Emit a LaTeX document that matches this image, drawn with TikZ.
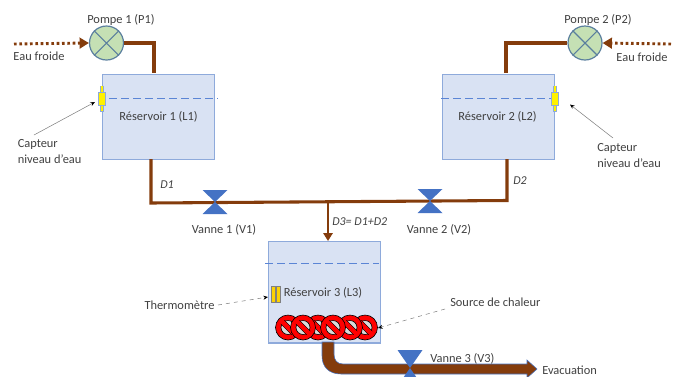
\documentclass[tikz,border=0pt]{standalone}
\usepackage{fontspec}
\setmainfont{Carlito}
\usetikzlibrary{arrows.meta}
\definecolor{pipe}{HTML}{843C0C}
\definecolor{tankfill}{HTML}{D9E2F3}
\definecolor{tankline}{HTML}{8EAADB}
\definecolor{lvl}{HTML}{4472C4}
\definecolor{lvlb}{HTML}{5B85D5}
\definecolor{pumpfill}{HTML}{C5E0B4}
\definecolor{pumpline}{HTML}{5B7F9E}
\definecolor{txt}{HTML}{404040}
\tikzset{
 tank/.style={draw=tankline,fill=tankfill,line width=1pt,minimum width=84pt,inner sep=0pt,anchor=north west},
 pump/.style={circle,draw=pumpline,fill=pumpfill,line width=0.9pt,minimum size=25.5pt,inner sep=0pt},
 lbl/.style={font=\fontsize{9.3}{12}\selectfont,text=txt,inner sep=0pt},
 flow/.style={lbl,font=\fontsize{9}{11}\selectfont\itshape},
 pipeline/.style={draw=pipe,line width=2.3pt,line join=miter},
 level/.style={draw=lvlb,line width=1.3pt,dash pattern=on 6pt off 3pt},
 inflow/.style={draw=pipe,line width=2.2pt,dash pattern=on 2pt off 2pt,-{Triangle[length=7pt,width=8pt]}},
 callout/.style={draw=gray,line width=0.4pt,-{Stealth[length=3.5pt,width=3pt,black]}},
 valvepart/.style={fill=lvl,draw=none},
}
\newcommand{\valveshape}[3]{\fill[valvepart] (#1-12.5,#2-#3) -- (#1+12.5,#2-#3) -- (#1-12.5,#2+#3) -- (#1+12.5,#2+#3) -- cycle;}
\newcommand{\heater}[2]{%
 \fill[red,draw=black,line width=0.45pt] (#1,#2) circle (12.5);
 \fill[white!70!gray,draw=black,line width=0.45pt] (#1,#2) circle (7);
 \draw[black,line width=4.2pt] (#1-5.5,#2-5.5) -- (#1+5.5,#2+5.5);
 \draw[red,line width=3.4pt] (#1-7,#2-7) -- (#1+7,#2+7);
}
\newcommand{\sensor}[2]{%
 \draw[tankline,line width=2.4pt] (#1,#2-13) -- (#1,#2+13);
 \draw[yellow,line width=1.5pt] (#1,#2-12.5) -- (#1,#2+12.5);
 \fill[yellow,draw=tankline,line width=0.6pt] (#1-3.5,#2-6.5) rectangle (#1+3.5,#2+6.5);
}
\begin{document}
\begin{tikzpicture}[x=0.75pt,y=-0.75pt]
\useasboundingbox (0,0) rectangle (679,376);
% tanks
\node[tank,minimum height=64pt] (t1) at (102,73.5) {};
\node[tank,minimum height=64pt] (t2) at (441.5,73.5) {};
\node[tank,minimum height=76pt] (t3) at (267.5,241) {};
% pumps
\node[pump] (p1) at (106.5,43) {};
\node[pump] (p2) at (585,43) {};
\draw[pumpline,line width=0.8pt] (p1.north west)--(p1.south east) (p1.north east)--(p1.south west);
\draw[pumpline,line width=0.8pt] (p2.north west)--(p2.south east) (p2.north east)--(p2.south west);
% pipes
\draw[pipeline] (p1.east) -- (154,43) -- (154,73);
\draw[pipeline] (p2.west) -- (506,43) -- (506,73);
\coordinate (j) at (328,202);
\draw[pipeline] (151,159) -- (151,203) -- (507,200.5) -- (507,159);
\draw[draw=pipe,line width=1.7pt,-{Triangle[length=6pt,width=7pt]}] (j) -- (t3.north -| j);
\coordinate (inL) at (14,44);
\coordinate (inR) at (671,44);
\draw[inflow] (inL) -- (p1.west);
\draw[inflow] (inR) -- (p2.east);
% drain
\fill[pipe,draw=lvl,line width=0.4pt] (322,342) -- (334,342) -- (334,354) .. controls (334,360) and (337,364) .. (343,364) -- (527,364) -- (527,360) -- (537,369) -- (527,378) -- (527,374) -- (341,374) .. controls (329,374) and (322,367) .. (322,356) -- cycle;
% levels
\draw[level] (109,98.5) -- (218,98.5);
\draw[level] (441,98.5) -- (551,98.5);
\draw[level] (265,263.5) -- (379,263.5);
% valves
\valveshape{215}{202}{12}
\valveshape{430}{201}{12}
\valveshape{410}{368}{18}
% sensors
\sensor{102}{98.5}
\sensor{555}{98.5}
% thermometer
\fill[yellow!70!orange,draw=gray,line width=0.4pt] (271.5,286) rectangle (275.5,302.5);
\fill[yellow!70!orange,draw=gray,line width=0.4pt] (276.5,286) rectangle (280.5,302.5);
% heater
\heater{318}{327.5}\heater{365}{327.5}\heater{288}{327.5}\heater{350}{327.5}\heater{303}{327.5}\heater{333}{327.5}
% labels
\node[lbl] (lp1) at (121,20) {Pompe 1 (P1)};
\node[lbl] (lp2) at (598,20) {Pompe 2 (P2)};
\node[lbl] (le1) at (39,56.5) {Eau froide};
\node[lbl] (le2) at (642,57) {Eau froide};
\node[lbl] (l1) at (158.5,117) {Réservoir 1 (L1)};
\node[lbl] (l2) at (497.5,117) {Réservoir 2 (L2)};
\node[lbl] (l3) at (323,293) {Réservoir 3 (L3)};
\node[lbl,align=left,anchor=north west] (c1) at (17.5,139) {Capteur\\niveau d'eau};
\node[lbl,align=left,anchor=north west] (c2) at (597,143) {Capteur\\niveau d'eau};
\node[lbl] (v1) at (224,229.5) {Vanne 1 (V1)};
\node[lbl] (v2) at (439,229.5) {Vanne 2 (V2)};
\node[lbl,anchor=west] (v3) at (430,358.5) {Vanne 3 (V3)};
\node[lbl,anchor=west] (ev) at (542,370.5) {Evacuation};
\node[lbl] (th) at (179.5,305) {Thermomètre};
\node[lbl,anchor=west] (sc) at (450,302.5) {Source de chaleur};
\node[flow] (d1) at (167,185) {D1};
\node[flow] (d2) at (520,181) {D2};
\node[flow,anchor=west] (d3) at (332,222) {D3= D1+D2};
% callouts
\coordinate (s1) at (95,102);
\coordinate (s2) at (570,104.5);
\coordinate (th1) at (268,297);
\coordinate (h1) at (378,328);
\coordinate (c1a) at (34,135);
\coordinate (c2a) at (613,138);
\coordinate (h0) at (445,309);
\coordinate (th0) at (218,305);
\draw[callout] (c1a) -- (s1);
\draw[callout] (c2a) -- (s2);
\draw[callout,dashed] (th0) -- (th1);
\draw[callout,dashed] (h0) -- (h1);
\end{tikzpicture}
\end{document}
